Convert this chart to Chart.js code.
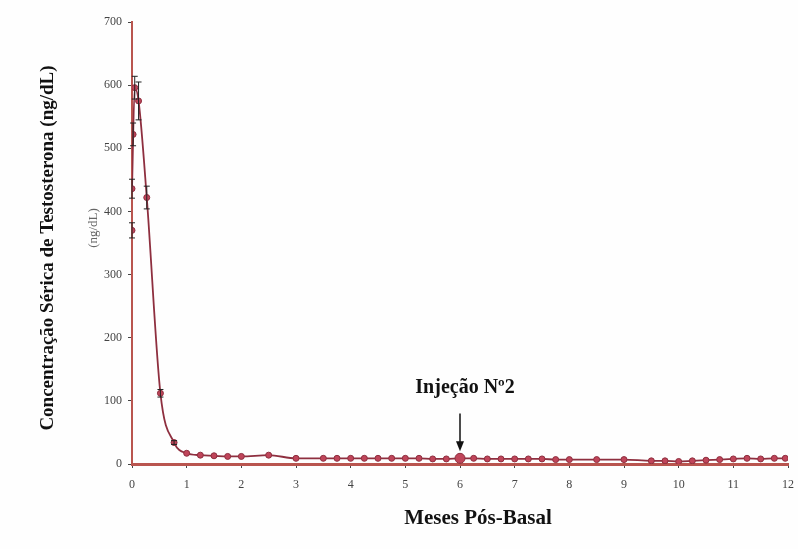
<!DOCTYPE html>
<html>
<head>
<meta charset="utf-8">
<script src="https://cdn.jsdelivr.net/npm/chart.js@4.4.1/dist/chart.umd.min.js"></script>
<style>
  html, body { margin: 0; padding: 0; background: #fefefe; }
  #wrap { width: 798px; height: 549px; }
</style>
</head>
<body>
<div id="wrap"><canvas id="myChart" width="798" height="549"></canvas></div>
<script>
// months after baseline and serum testosterone (ng/dL)
const months = [0, 0.05, 0.12, 0.27, 0.52, 0.77, 1.0, 1.25, 1.5, 1.75, 2.0, 2.5, 3.0,
  3.5, 3.75, 4.0, 4.25, 4.5, 4.75, 5.0, 5.25, 5.5, 5.75, 6.0, 6.25, 6.5, 6.75, 7.0,
  7.25, 7.5, 7.75, 8.0, 8.5, 9.0, 9.5, 9.75, 10.0, 10.25, 10.5, 10.75, 11.0, 11.25,
  11.5, 11.75, 11.95];
const testosterone = [436, 596, 575, 422, 112, 34, 17, 14, 13, 12, 12, 14, 9,
  9, 9, 9, 9, 9, 9, 9, 9, 8, 8, 9, 9, 8, 8, 8,
  8, 8, 7, 7, 7, 7, 5, 5, 4, 5, 6, 7, 8, 9,
  8, 9, 9];
const errors = [15, 18, 30, 18, 6, 3, 0, 0, 0, 0, 0, 0, 0,
  0, 0, 0, 0, 0, 0, 0, 0, 0, 0, 0, 0, 0, 0, 0,
  0, 0, 0, 0, 0, 0, 0, 0, 0, 0, 0, 0, 0, 0,
  0, 0, 0];

// extra baseline readings stacked at the start
const extraMonths = [0, 0.02];
const extraValues = [370, 522];
const extraErrors = [12, 18];

const xTicks = [0, 1, 2, 3, 4, 5, 6, 7, 8, 9, 10, 11, 12];
const yTicks = [0, 100, 200, 300, 400, 500, 600, 700];

const injectionMonth = 6;
const injectionLabel = 'Injeção Nº2';

const lineColor = '#8e2f3f';
const pointColor = '#c0455a';
const axisColor = '#b9554f';

const mainPoints = months.map((m, i) => ({ x: m, y: testosterone[i], err: errors[i] }));
const extraPoints = extraMonths.map((m, i) => ({ x: m, y: extraValues[i], err: extraErrors[i] }));

const radii = months.map(m => (m === injectionMonth ? 5 : 3));

const errorBars = {
  id: 'errorBars',
  afterDatasetsDraw(chart) {
    const { ctx, scales: { x, y } } = chart;
    ctx.save();
    ctx.strokeStyle = '#222';
    ctx.lineWidth = 1;
    chart.data.datasets.forEach(ds => {
      ds.data.forEach(p => {
        if (!p.err) return;
        const px = x.getPixelForValue(p.x);
        const top = y.getPixelForValue(p.y + p.err);
        const bot = y.getPixelForValue(p.y - p.err);
        ctx.beginPath();
        ctx.moveTo(px, top); ctx.lineTo(px, bot);
        ctx.moveTo(px - 3, top); ctx.lineTo(px + 3, top);
        ctx.moveTo(px - 3, bot); ctx.lineTo(px + 3, bot);
        ctx.stroke();
      });
    });
    ctx.restore();
  }
};

const annotations = {
  id: 'annotations',
  beforeDraw(chart) {
    const ctx = chart.ctx;
    ctx.save();
    ctx.fillStyle = '#fefefe';
    ctx.fillRect(0, 0, chart.width, chart.height);
    ctx.restore();
  },
  afterDraw(chart) {
    const { ctx, scales: { x, y } } = chart;
    ctx.save();
    // injection arrow
    const ax = x.getPixelForValue(injectionMonth);
    const tip = y.getPixelForValue(20);
    const tail = y.getPixelForValue(80);
    ctx.strokeStyle = '#111';
    ctx.fillStyle = '#111';
    ctx.lineWidth = 1.5;
    ctx.beginPath();
    ctx.moveTo(ax, tail); ctx.lineTo(ax, tip - 8);
    ctx.stroke();
    ctx.beginPath();
    ctx.moveTo(ax, tip); ctx.lineTo(ax - 4, tip - 10); ctx.lineTo(ax + 4, tip - 10);
    ctx.closePath();
    ctx.fill();

    ctx.font = 'bold 20px "Liberation Serif", "DejaVu Serif", serif';
    ctx.textAlign = 'center';
    ctx.textBaseline = 'middle';
    ctx.fillText(injectionLabel, ax + 5, 388);

    // axis titles
    ctx.font = 'bold 21px "Liberation Serif", "DejaVu Serif", serif';
    ctx.fillText('Meses Pós-Basal', 478, 519);
    ctx.save();
    ctx.translate(48, 248);
    ctx.rotate(-Math.PI / 2);
    ctx.font = 'bold 19px "Liberation Serif", "DejaVu Serif", serif';
    ctx.fillText('Concentração Sérica de Testosterona (ng/dL)', 0, 0);
    ctx.restore();

    ctx.save();
    ctx.translate(94, 228);
    ctx.rotate(-Math.PI / 2);
    ctx.fillStyle = '#666';
    ctx.font = '13px "Liberation Serif", "DejaVu Serif", serif';
    ctx.fillText('(ng/dL)', 0, 0);
    ctx.restore();
    ctx.restore();
  }
};

const ctx = document.getElementById('myChart').getContext('2d');
const myChart = new Chart(ctx, {
  type: 'scatter',
  data: {
    datasets: [{
      label: 'Testosterona',
      data: mainPoints,
      showLine: true,
      borderColor: lineColor,
      borderWidth: 1.8,
      cubicInterpolationMode: 'monotone',
      pointRadius: radii,
      pointBackgroundColor: pointColor,
      pointBorderColor: lineColor,
      pointBorderWidth: 1
    }, {
      label: 'Basal',
      data: extraPoints,
      showLine: false,
      pointRadius: 3,
      pointBackgroundColor: pointColor,
      pointBorderColor: lineColor,
      pointBorderWidth: 1
    }]
  },
  options: {
    responsive: false,
    animation: false,
    layout: { padding: { left: 0, right: 10, top: 22, bottom: 0 } },
    plugins: {
      legend: { display: false },
      tooltip: { enabled: false }
    },
    scales: {
      x: {
        type: 'linear',
        min: 0,
        max: 12,
        afterFit(scale) {
          scale.height = 85;
          scale.paddingLeft = 0;
          scale.paddingRight = 0;
        },
        afterBuildTicks(scale) { scale.ticks = xTicks.map(v => ({ value: v })); },
        border: { color: axisColor, width: 3 },
        grid: { drawOnChartArea: false, drawTicks: true, tickLength: 4, color: '#444' },
        ticks: {
          padding: 10,
          color: '#444',
          font: { family: '"Liberation Serif", "DejaVu Serif", serif', size: 12 }
        }
      },
      y: {
        min: 0,
        max: 700,
        afterFit(scale) { scale.width = 132; },
        afterBuildTicks(scale) { scale.ticks = yTicks.map(v => ({ value: v })); },
        border: { color: axisColor, width: 2 },
        grid: { drawOnChartArea: false, drawTicks: true, tickLength: 4, color: '#444' },
        ticks: {
          padding: 6,
          color: '#444',
          font: { family: '"Liberation Serif", "DejaVu Serif", serif', size: 12 }
        }
      }
    }
  },
  plugins: [errorBars, annotations]
});
</script>
</body>
</html>
